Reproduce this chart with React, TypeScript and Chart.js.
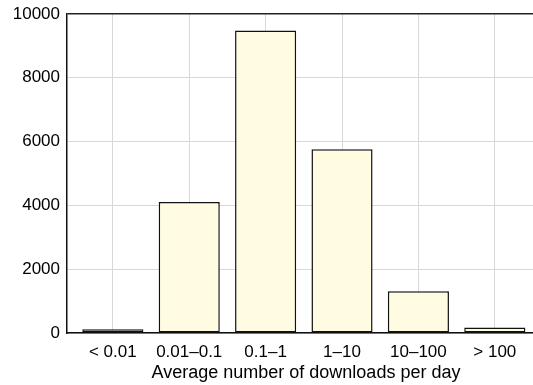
import React, { useEffect, useRef } from "react";
import { Chart, registerables } from "chart.js";

Chart.register(...registerables);

const categories = ["< 0.01", "0.01–0.1", "0.1–1", "1–10", "10–100", "> 100"];
const downloads = [120, 4110, 9480, 5760, 1310, 170];
const yTicks = [0, 2000, 4000, 6000, 8000, 10000];
const xTitle = "Average number of downloads per day";

const FAMILY = "'Liberation Sans', Arial, sans-serif";

const titlePlugin = {
  id: "xTitle",
  afterDraw(chart: any) {
    const ctx = chart.ctx;
    ctx.save();
    ctx.font = `18px ${FAMILY}`;
    ctx.fillStyle = "#000";
    ctx.textAlign = "center";
    ctx.textBaseline = "alphabetic";
    ctx.fillText(xTitle, 306, 378);
    ctx.restore();
  },
};

export default function App() {
  const ref = useRef<HTMLCanvasElement>(null);
  useEffect(() => {
    document.body.style.margin = "0";
    const font = { family: FAMILY, size: 17 };
    const chart = new Chart(ref.current!, {
      type: "bar",
      data: {
        datasets: [
          {
            data: downloads.map((v, i) => ({ x: i + 1, y: v })),
            backgroundColor: "#fffce1",
            borderColor: "#111",
            borderWidth: 1.5,
            borderSkipped: false,
            barPercentage: 0.8,
            categoryPercentage: 1,
          },
        ],
      },
      plugins: [titlePlugin],
      options: {
        animation: false,
        responsive: false,
        devicePixelRatio: 1,
        layout: { padding: { top: 14, right: 0, left: 0, bottom: 0 } },
        plugins: { legend: { display: false }, tooltip: { enabled: false } },
        scales: {
          x: {
            type: "linear",
            min: 0.4,
            max: 6.5,
            offset: false,
            afterBuildTicks: (s: any) => {
              s.ticks = categories.map((_, i) => ({ value: i + 1 }));
            },
            afterFit: (s: any) => {
              s.height = 52;
              s.paddingLeft = 0;
              s.paddingRight = 0;
            },
            ticks: {
              autoSkip: false,
              maxRotation: 0,
              color: "#000",
              font,
              padding: 9,
              callback: (v: any) => categories[Math.round(v) - 1] ?? "",
            },
            grid: { color: "#d8d8d8", lineWidth: 1, drawTicks: false, offset: false },
            border: { color: "#111", width: 1.5 },
          },
          y: {
            min: 0,
            max: 10000,
            afterBuildTicks: (s: any) => {
              s.ticks = yTicks.map((v) => ({ value: v }));
            },
            afterFit: (s: any) => {
              s.width = 67;
              s.paddingTop = 0;
              s.paddingBottom = 0;
            },
            ticks: { color: "#000", font, padding: 7, callback: (v: any) => String(v) },
            grid: {
              drawTicks: false,
              color: (c: any) => (c.tick && c.tick.value === 10000 ? "#222" : "#d8d8d8"),
              lineWidth: (c: any) => (c.tick && c.tick.value === 10000 ? 1.5 : 1),
            },
            border: { color: "#111", width: 1.5 },
          },
        },
      },
    });
    return () => chart.destroy();
  }, []);
  return <canvas ref={ref} width={533} height={385} style={{ display: "block" }} />;
}
